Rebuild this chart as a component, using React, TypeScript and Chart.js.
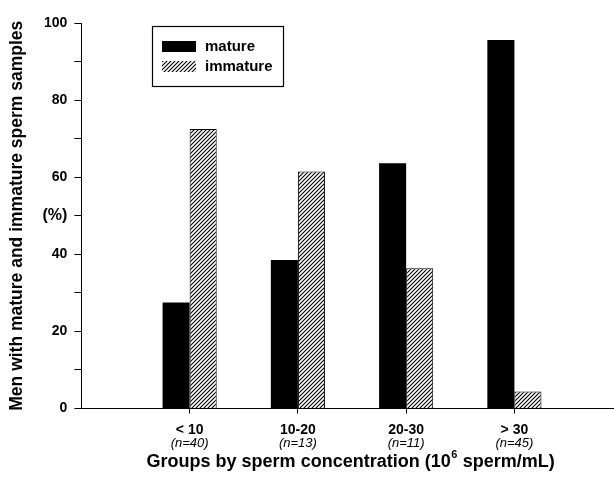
import React, { useEffect, useRef } from 'react';
import { Chart, registerables } from 'chart.js';

Chart.register(...registerables);

// ---- data ----
const categories = ['< 10', '10-20', '20-30', '> 30'];
const sampleSizes = ['(n=40)', '(n=13)', '(n=11)', '(n=45)'];
const seriesLabels = ['mature', 'immature'];
const mature = [27.5, 38.5, 63.6, 95.6];
const immature = [72.5, 61.5, 36.4, 4.4];
const yTickLabels = [0, 20, 40, 60, 80, 100];
const yUnitValue = 50;
const yUnitLabel = '(%)';
const yTitle = 'Men with mature and immature sperm samples';
const xTitleParts = ['Groups by sperm concentration (10', '6', ' sperm/mL)'];

const FONT = "'Liberation Sans', Arial, Helvetica, sans-serif";

function makeHatch(): CanvasPattern | string {
  const c = document.createElement('canvas');
  c.width = 4;
  c.height = 4;
  const g = c.getContext('2d');
  if (!g) return '#888';
  g.fillStyle = '#fff';
  g.fillRect(0, 0, 4, 4);
  g.strokeStyle = '#000';
  g.lineWidth = 1.1;
  g.beginPath();
  g.moveTo(0, 4);
  g.lineTo(4, 0);
  g.moveTo(-1, 1);
  g.lineTo(1, -1);
  g.moveTo(3, 5);
  g.lineTo(5, 3);
  g.stroke();
  return g.createPattern(c, 'repeat') || '#888';
}

const boxLegend = {
  id: 'boxLegend',
  afterDraw(chart: any) {
    const { ctx, chartArea } = chart;
    const x0 = Math.round(chartArea.left + 71);
    const y0 = Math.round(chartArea.top + 3);
    const w = 131;
    const h = 60;
    ctx.save();
    ctx.fillStyle = '#fff';
    ctx.fillRect(x0, y0, w, h);
    ctx.strokeStyle = '#000';
    ctx.lineWidth = 1.2;
    ctx.strokeRect(x0 + 0.5, y0 + 0.5, w, h);
    chart.data.datasets.forEach((ds: any, i: number) => {
      const sy = y0 + 15 + i * 20;
      ctx.fillStyle = ds.backgroundColor;
      ctx.fillRect(x0 + 10, sy, 34, 11);
      ctx.fillStyle = '#000';
      ctx.font = `bold 15px ${FONT}`;
      ctx.textBaseline = 'middle';
      ctx.textAlign = 'left';
      ctx.fillText(ds.label, x0 + 53, sy + 6);
    });
    ctx.restore();
  },
};

// italic sample-size labels under each category tick, and the x title with a superscript
const xExtras = {
  id: 'xExtras',
  afterDraw(chart: any) {
    const { ctx, chartArea } = chart;
    const xs = chart.scales.x;
    ctx.save();
    ctx.fillStyle = '#000';
    ctx.textBaseline = 'middle';
    ctx.textAlign = 'center';
    ctx.font = `italic 13px ${FONT}`;
    sampleSizes.forEach((s, i) => {
      ctx.fillText(s, xs.getPixelForValue(i), xs.top + 34.5);
    });

    const cy = xs.top + 53.5;
    ctx.textAlign = 'left';
    const big = `bold 18px ${FONT}`;
    const small = `bold 11px ${FONT}`;
    ctx.font = big;
    const w1 = ctx.measureText(xTitleParts[0]).width;
    const w3 = ctx.measureText(xTitleParts[2]).width;
    ctx.font = small;
    const w2 = ctx.measureText(xTitleParts[1]).width + 1;
    const total = w1 + w2 + w3;
    let x = (chartArea.left + chartArea.right) / 2 - total / 2 + 3;
    ctx.font = big;
    ctx.fillText(xTitleParts[0], x, cy);
    x += w1;
    ctx.font = small;
    ctx.fillText(xTitleParts[1], x + 0.5, cy - 7);
    x += w2;
    ctx.font = big;
    ctx.fillText(xTitleParts[2], x, cy);
    ctx.restore();
  },
};

export default function App() {
  const ref = useRef<HTMLCanvasElement | null>(null);

  useEffect(() => {
    if (!ref.current) return;
    const hatch = makeHatch();
    const chart = new Chart(ref.current, {
      type: 'bar',
      data: {
        datasets: [
          {
            label: seriesLabels[0],
            data: mature.map((v, i) => ({ x: i, y: v })),
            backgroundColor: '#000',
            borderColor: '#000',
            borderWidth: 0,
            categoryPercentage: 0.5,
            barPercentage: 1,
          },
          {
            label: seriesLabels[1],
            data: immature.map((v, i) => ({ x: i, y: v })),
            backgroundColor: hatch as any,
            borderColor: '#000',
            borderWidth: 1,
            categoryPercentage: 0.5,
            barPercentage: 1,
          },
        ],
      } as any,
      options: {
        animation: false,
        responsive: false,
        maintainAspectRatio: false,
        layout: { padding: { left: 4, top: 23, right: 0, bottom: 46.5 } },
        plugins: {
          legend: { display: false },
          tooltip: { enabled: false },
        },
        scales: {
          x: {
            type: 'linear',
            position: 'bottom',
            min: -1,
            max: 3.92,
            offset: false,
            afterBuildTicks: (s: any) => {
              s.ticks = categories.map((_, i) => ({ value: i }));
            },
            grid: { display: true, offset: false, drawOnChartArea: false, drawTicks: true, tickLength: 5, color: '#000', tickColor: '#000', lineWidth: 1 },
            border: { display: true, color: '#000', width: 1 },
            ticks: {
              padding: 9.5,
              color: '#000',
              autoSkip: false,
              maxRotation: 0,
              font: { family: FONT, size: 14, weight: 'bold', lineHeight: 1 },
              callback: (v: any) => categories[v] ?? '',
            },
          },
          y: {
            type: 'linear',
            min: 0,
            max: 100,
            grid: { display: true, drawOnChartArea: false, tickLength: 7, color: '#000', lineWidth: 1 },
            border: { display: true, color: '#000', width: 1 },
            ticks: {
              stepSize: 10,
              padding: 7,
              color: '#000',
              autoSkip: false,
              font: (c: any) =>
                c.tick && c.tick.value === yUnitValue
                  ? { family: FONT, size: 16, weight: 'bold' }
                  : { family: FONT, size: 14, weight: 'bold' },
              callback: (v: any) =>
                yTickLabels.includes(v) ? String(v) : v === yUnitValue ? yUnitLabel : '',
            },
            title: {
              display: true,
              text: yTitle,
              color: '#000',
              font: { family: FONT, size: 17.5, weight: 'bold' },
              padding: { top: 2.5, bottom: 8 },
            },
          },
        },
      } as any,
      plugins: [boxLegend, xExtras],
    });
    return () => chart.destroy();
  }, []);

  return (
    <div style={{ position: 'absolute', left: 0, top: 0, width: 614, height: 493, background: '#fff' }}>
      <canvas ref={ref} width={614} height={493} style={{ display: 'block' }} />
    </div>
  );
}
